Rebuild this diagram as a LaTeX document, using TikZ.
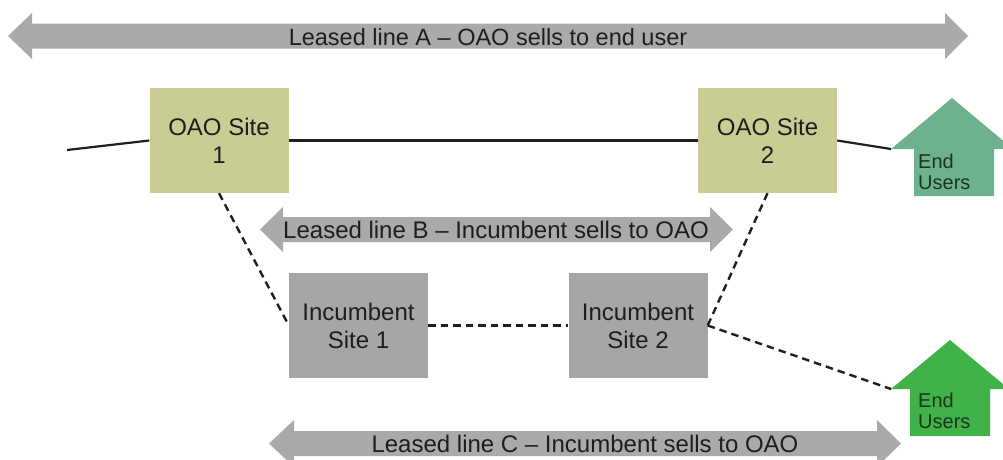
\documentclass[tikz,border=0pt]{standalone}
\usepackage{fontspec}
\setmainfont{Liberation Sans}
\definecolor{oaofill}{RGB}{201,205,148}
\definecolor{incfill}{RGB}{166,166,166}
\definecolor{arrowgray}{RGB}{170,170,170}
\definecolor{housea}{RGB}{108,178,140}
\definecolor{houseb}{RGB}{64,178,72}
\definecolor{labeltext}{RGB}{30,30,30}
\definecolor{usertext}{RGB}{28,52,30}
\tikzset{
  site/.style={draw=none, minimum width=139pt, minimum height=105pt, align=center,
    inner sep=0pt, font=\fontsize{24}{28}\selectfont, text=labeltext},
  oaosite/.style={site, fill=oaofill},
  incsite/.style={site, fill=incfill},
  leased/.style={fill=arrowgray},
  leasedlabel/.style={font=\fontsize{24}{28}\selectfont, text=labeltext, inner sep=0pt},
  link/.style={line width=2.2pt, draw=black!88},
  linkdash/.style={link, line width=2.4pt, dash pattern=on 7.5pt off 5pt},
  userlabel/.style={font=\fontsize{20}{21}\selectfont, align=left, anchor=west,
    inner sep=0pt, text=usertext}
}
\begin{document}
\begin{tikzpicture}[x=1pt,y=-1pt]
\useasboundingbox (0,0) rectangle (1003,459);
\clip (0,0) rectangle (1003,459);

% leased-line double arrows
\fill[leased] (8,36) -- (32,13) -- (32,23.5) -- (945,23.5) -- (945,13) -- (968,36)
  -- (945,59) -- (945,48.5) -- (32,48.5) -- (32,59) -- cycle;
\node[leasedlabel, font=\fontsize{23.5}{28}\selectfont] (labA) at (488,37) {Leased line A – OAO sells to end user};

\fill[leased] (260,229.5) -- (283,207) -- (283,217) -- (710,217) -- (710,207) -- (733,229.5)
  -- (710,252) -- (710,242) -- (283,242) -- (283,252) -- cycle;
\node[leasedlabel] (labB) at (496,230) {Leased line B – Incumbent sells to OAO};

\fill[leased] (269,443.5) -- (294,420) -- (294,431) -- (877,431) -- (877,420) -- (901,443.5)
  -- (877,467) -- (877,456) -- (294,456) -- (294,467) -- cycle;
\node[leasedlabel] (labC) at (585,444) {Leased line C – Incumbent sells to OAO};

% sites
\node[oaosite] (oao1) at (219,140.5) {OAO Site\\1};
\node[oaosite] (oao2) at (767.5,140.5) {OAO Site\\2};
\node[incsite] (inc1) at (358.5,325.5) {Incumbent\\Site 1};
\node[incsite] (inc2) at (638,325.5) {Incumbent\\Site 2};

% end-user houses
\fill[housea] (891,149) -- (952,98) -- (1013,149) -- (994,149) -- (994,196)
  -- (914,196) -- (914,149) -- cycle;
\node[userlabel] (usersAtxt) at (918,172) {End\\Users};
\coordinate (usersA) at (891,149);

\fill[houseb] (891,389) -- (950,340) -- (1009,389) -- (990,389) -- (990,436)
  -- (910,436) -- (910,389) -- cycle;
\node[userlabel] (usersBtxt) at (918,411) {End\\Users};
\coordinate (usersB) at (891,389);

\coordinate (lineStart) at (67,150);

% connections
\draw[link] (lineStart) -- (oao1.west);
\draw[link] (oao1.east) -- (oao2.west);
\draw[link] (oao2.east) -- (usersA);
\draw[linkdash] (oao1.south) -- (inc1.west);
\draw[linkdash] (inc1.east) -- (inc2.west);
\draw[linkdash] (oao2.south) -- (inc2.east);
\draw[linkdash] (inc2.east) -- (usersB);
\end{tikzpicture}
\end{document}
